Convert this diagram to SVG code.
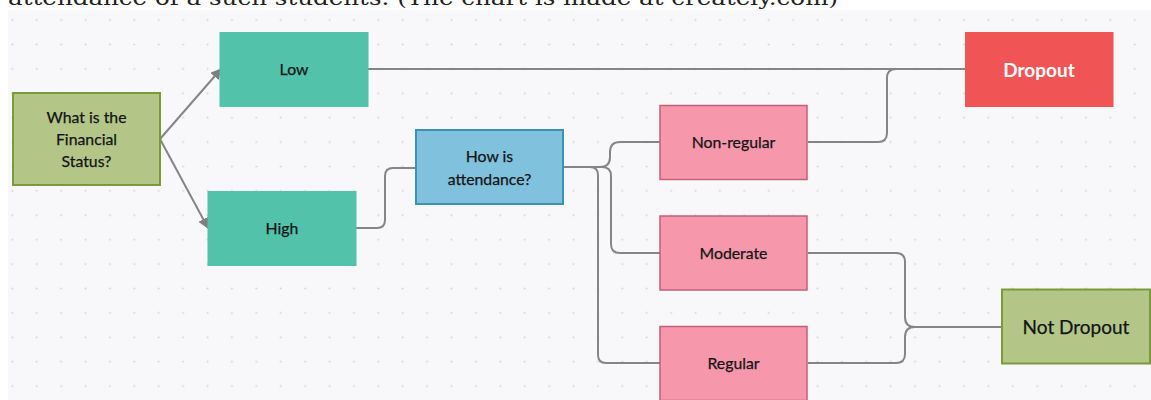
<svg xmlns="http://www.w3.org/2000/svg" width="1151" height="400" viewBox="0 0 1151 400">
<defs>
<pattern id="dots" x="0" y="7.9" width="24.4" height="24.4" patternUnits="userSpaceOnUse">
<circle cx="12.3" cy="12.2" r="1" fill="#d4d4da"/>
</pattern>
<marker id="arr" viewBox="0 0 10 10" refX="9" refY="5" markerWidth="11" markerHeight="11" markerUnits="userSpaceOnUse" orient="auto">
<path d="M0,0 L10,5 L0,10 z" fill="#7f7f7f"/>
</marker>
<style>
.lbl{font-family:Lato,"Open Sans",sans-serif;font-size:15.8px;fill:#141414;text-anchor:middle;stroke:#141414;stroke-width:0.25px}
.big{font-size:19px}
.con{fill:none;stroke:#858585;stroke-width:2}
</style>
</defs>
<rect width="1151" height="400" fill="#ffffff"/>
<rect x="8" y="10" width="1143" height="390" fill="#f8f8fa"/>
<rect x="8" y="10" width="1143" height="390" fill="url(#dots)"/>
<text x="8" y="5" font-family="'DejaVu Serif',serif" font-size="21" fill="#222" textLength="830" lengthAdjust="spacingAndGlyphs">attendance of a such students. (The chart is made at creately.com)</text>

<g id="connectors">
<line class="con" x1="160" y1="139" x2="221" y2="69" marker-end="url(#arr)"/>
<line class="con" x1="160" y1="139" x2="208" y2="228" marker-end="url(#arr)"/>
<path class="con" d="M368,69 H965"/>
<path class="con" d="M356,228 H377 Q385,228 385,220 V176 Q385,168 393,168 H416"/>
<path class="con" d="M563,167 H600 Q610,167 610,157 V152 Q610,142 620,142 H660"/>
<path class="con" d="M563,167 H602 Q611,167 611,176 V244 Q611,253 620,253 H660"/>
<path class="con" d="M563,167 H590 Q598,167 598,175 V355 Q598,363 606,363 H660"/>
<path class="con" d="M808,142 H878 Q887,142 887,133 V78 Q887,69 896,69 H965"/>
<path class="con" d="M808,253 H896 Q905,253 905,262 V317 Q905,327 915,327 H1002"/>
<path class="con" d="M808,363 H896 Q905,363 905,354 V337 Q905,327 915,327"/>
</g>

<g id="financial">
<rect x="13" y="93" width="147" height="92" fill="#b3c688" stroke="#7b9a3c" stroke-width="2"/>
<text class="lbl" x="86.5" y="123">What is the</text>
<text class="lbl" x="86.5" y="145">Financial</text>
<text class="lbl" x="86.5" y="167">Status?</text>
</g>
<g id="low">
<rect x="219.5" y="32" width="149" height="75" fill="#52c2aa"/>
<text class="lbl" x="294" y="75">Low</text>
</g>
<g id="high">
<rect x="207.5" y="191" width="149" height="75" fill="#52c2aa"/>
<text class="lbl" x="282" y="234">High</text>
</g>
<g id="attendance">
<rect x="416" y="130" width="147" height="74" fill="#80c2de" stroke="#3c91b6" stroke-width="2"/>
<text class="lbl" x="489.5" y="162">How is</text>
<text class="lbl" x="489.5" y="185">attendance?</text>
</g>
<g id="nonregular">
<rect x="660" y="105.5" width="147" height="74" fill="#f797ac" stroke="#c0607a" stroke-width="1.5"/>
<text class="lbl" x="733.5" y="148">Non-regular</text>
</g>
<g id="moderate">
<rect x="660" y="216" width="147" height="74" fill="#f797ac" stroke="#c0607a" stroke-width="1.5"/>
<text class="lbl" x="733.5" y="258.5">Moderate</text>
</g>
<g id="regular">
<rect x="660" y="326.5" width="147" height="74" fill="#f797ac" stroke="#c0607a" stroke-width="1.5"/>
<text class="lbl" x="733.5" y="369">Regular</text>
</g>
<g id="dropout">
<rect x="965" y="32" width="148.5" height="75" fill="#f05455"/>
<text class="lbl big" x="1039" y="76.5" style="fill:#ffffff;stroke:none;font-weight:bold">Dropout</text>
</g>
<g id="notdropout">
<rect x="1002" y="289.5" width="148" height="74" fill="#b3c688" stroke="#7b9a3c" stroke-width="2"/>
<text class="lbl big" x="1076" y="333.5">Not Dropout</text>
</g>
</svg>
